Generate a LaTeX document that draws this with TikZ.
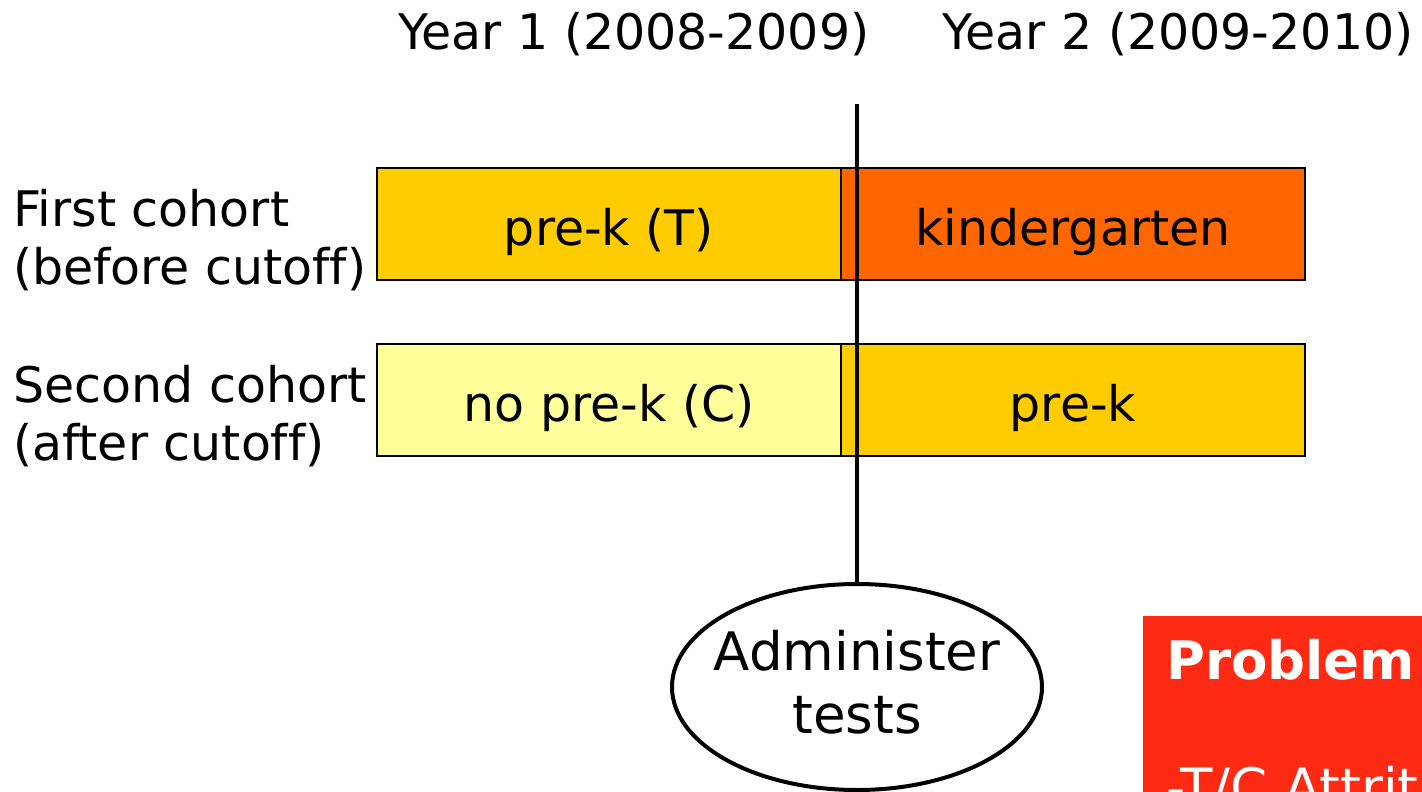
\documentclass[tikz,border=0pt]{standalone}
\usepackage{fontspec}
\setmainfont[Ligatures=NoCommon]{DejaVu Sans}
\usetikzlibrary{shapes.geometric}
\definecolor{preK}{HTML}{FFCC00}
\definecolor{kinder}{HTML}{FF6600}
\definecolor{noPreK}{HTML}{FFFF99}
\definecolor{probRed}{HTML}{FF2A14}
\begin{document}
\begin{tikzpicture}[x=1pt,y=-1pt,
  txt/.style={font=\fontsize{49}{57}\selectfont, inner sep=0pt},
  label/.style={txt, anchor=base west},
  bar/.style={draw=black, line width=2pt, minimum width=464pt, minimum height=112pt},
  bartext/.style={txt, anchor=base},
  test/.style={ellipse, draw=black, line width=4pt, minimum width=370pt, minimum height=206pt,
    inner sep=0pt}]
\useasboundingbox (0,0) rectangle (1422,792);
\clip (0,0) rectangle (1422,792);
\fill[white] (0,0) rectangle (1422,792);

% column headings
\node[label] (y1) at (398,50) {Year 1 (2008-2009)};
\node[label] (y2) at (942,50) {Year 2 (2009-2010)};

% row headings
\node[label] (c1a) at (13,226) {First cohort};
\node[label] (c1b) at (13,284) {(before cutoff)};
\node[label] (c2a) at (13,402) {Second cohort};
\node[label] (c2b) at (13,460) {(after cutoff)};

% cohort bars
\node[bar, fill=preK] (r1a) at (609,224) {};
\node[bar, fill=kinder] (r1b) at (1073,224) {};
\node[bar, fill=noPreK] (r2a) at (609,400) {};
\node[bar, fill=preK] (r2b) at (1073,400) {};
\node[bartext] (t1a) at (609,245) {pre-k (T)};
\node[bartext] (t1b) at (1073,245) {kindergarten};
\node[bartext] (t2a) at (609,421) {no pre-k (C)};
\node[bartext] (t2b) at (1073,421) {pre-k};

% testing point
\node[test] (tests) at (857,687) {};
\node[inner sep=0pt, align=center, font=\fontsize{53}{63}\selectfont] (testsTxt) at (857,682) {Administer\\tests};
\coordinate (top) at (857,104);
\draw[line width=4.5pt] (top) -- (tests.north);

% problem box
\node[fill=probRed, minimum width=300pt, minimum height=200pt, anchor=north west, inner sep=0pt] (prob) at (1143,616) {};
\node[anchor=base west, inner sep=0pt, text=white, font=\fontsize{53}{63}\bfseries\selectfont] (probT) at (1166,679) {Problem};
\node[anchor=base west, inner sep=0pt, text=white, font=\fontsize{53}{63}\selectfont] (probL) at (1166,806) {-T/C Attrition};
\end{tikzpicture}
\end{document}
